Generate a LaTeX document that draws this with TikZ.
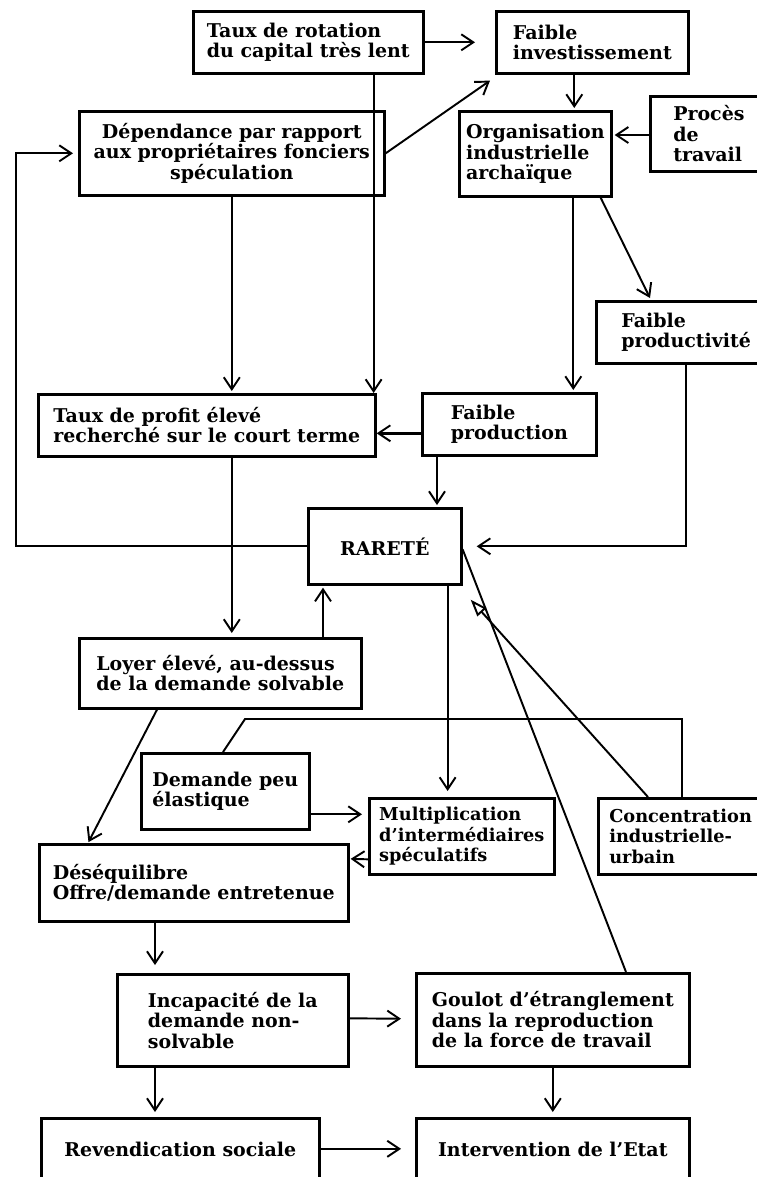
\documentclass[tikz,border=0pt]{standalone}
\usepackage{fontspec}
\setmainfont{DejaVu Serif}
\usetikzlibrary{arrows.meta,calc}
% box: [options] name, x1, y1, x2, y2 (top-left / bottom-right), text
\newcommand\placebox[7][]{%
  \node[box,#1,anchor=north west,
        minimum width={(#5-#3)*0.02cm},minimum height={(#6-#4)*0.02cm}]
        (#2) at (#3,#4) {#7};}
\begin{document}
\begin{tikzpicture}[x=0.02cm,y=-0.02cm,
  box/.style={draw,line width=1.5pt,inner sep=0pt,align=left,
              font=\fontsize{10.8}{11.6}\selectfont\bfseries},
  smalltext/.style={font=\fontsize{10.1}{11.6}\selectfont\bfseries},
  link/.style={line width=1.1pt},
  arr/.style={link,-{Straight Barb[length=2.4mm,width=3.2mm,line width=1.1pt]}},
  openarr/.style={link,-{Triangle[open,length=3.4mm,width=2.4mm,line width=1.1pt]}},
]
\useasboundingbox (0,0) rectangle (757,1177);
\fill[white] (0,0) rectangle (757,1177);
\clip (0,0) rectangle (757,1177);

% ---- boxes ----
\placebox{rot}{192}{10}{422}{72}{Taux de rotation\\du capital très lent}
\placebox{inv}{495}{10}{687}{72}{Faible\\investissement}
\placebox[align=center]{dep}{78}{110}{383}{194}{Dépendance par rapport\\aux propriétaires fonciers\\spéculation}
\placebox{org}{458}{110}{610}{195}{Organisation\\industrielle\\archaïque}
\placebox[text width={95*0.02cm}]{proc}{649}{95}{790}{170}{Procès\\de\\travail}
\placebox[text width={130*0.02cm}]{prodv}{595}{300}{775}{362}{Faible\\productivité}
\placebox{prof}{37}{393}{374}{455}{Taux de profit élevé\\recherché sur le court terme}
\placebox{prod}{421}{392}{595}{454}{Faible\\production}
\placebox{rar}{307}{507}{460}{583}{RARETÉ}
\placebox{loy}{78}{637}{360}{707}{Loyer élevé, au-dessus\\de la demande solvable}
\placebox{dem}{140}{752}{308}{828}{Demande peu\\élastique}
\placebox[smalltext]{mul}{368}{797}{553}{873}{Multiplication\\d'intermédiaires\\spéculatifs}
\placebox[smalltext,text width={156*0.02cm}]{con}{597}{797}{775}{873}{Concentration\\industrielle-\\urbain}
\placebox{des}{38}{843}{347}{920}{Déséquilibre\\Offre/demande entretenue}
\placebox{inc}{116}{973}{347}{1065}{Incapacité de la\\demande non-\\solvable}
\placebox{gou}{415}{972}{688}{1065}{Goulot d'étranglement\\dans la reproduction\\de la force de travail}
\placebox{rev}{40}{1117}{318}{1180}{Revendication sociale}
\placebox{int}{415}{1117}{688}{1180}{Intervention de l'Etat}

% ---- helper points ----
\coordinate (lft) at (16,0);
\coordinate (bend) at (245,719);
\coordinate (cRotProf) at ($(prof.north east)+(-3,0)$);
\coordinate (cInvOrg) at ($(org.north)+(39,0)$);
\coordinate (cOrgProd) at ($(prod.north)+(64,0)$);
\coordinate (cProdRar) at ($(prod.south west)+(16,0)$);
\coordinate (cLoyRar) at ($(rar.south west)+(16,0)$);
\coordinate (cRarMul) at ($(rar.south east)+(-15,0)$);
\coordinate (cDesInc) at ($(inc.north west)+(39,0)$);

% ---- connectors ----
\draw[arr,shorten >=20*0.02cm] (rot.east) -- (inv.west);
\draw[arr] (rot.south -| cRotProf) -- (cRotProf);
\draw[arr] (dep.east) -- ($(inv.south west)+(-5,6)$);
\draw[arr,shorten >=2*0.02cm] (inv.south -| cInvOrg) -- (cInvOrg);
\draw[arr,shorten >=2*0.02cm] (proc.west |- 0,135) -- (org.east |- 0,135);
\draw[arr,shorten >=2*0.02cm] (org.south -| cOrgProd) -- (cOrgProd);
\draw[arr] ($(org.south east)+(-12,0)$) -- ($(prodv.north west)+(55,-2)$);
\draw[arr,shorten >=2*0.02cm] (dep.south) -- (dep.south |- prof.north);
\draw[arr,line width=1.6pt] ($(prod.west)+(0,9)$) -- ($(prof.east)+(0,8)$);
\draw[arr,shorten >=2*0.02cm] (prod.south -| cProdRar) -- (rar.north -| cProdRar);
\draw[arr,shorten >=14*0.02cm] (prodv.south) -- (prodv.south |- rar.east) -- (rar.east);
\draw[arr,shorten >=5*0.02cm] (rar.west) -- (rar.west -| lft) |- (dep.west);
\draw[arr,shorten >=4*0.02cm] (prof.south -| dep.south) -- (loy.north -| dep.south);
\draw[arr,shorten >=2*0.02cm] (loy.north -| cLoyRar) -- (cLoyRar);
\draw[arr,shorten >=6*0.02cm] (cRarMul) -- (mul.north -| cRarMul);
\draw[openarr] ($(con.north west)+(51,0)$) -- ($(rar.south east)+(8,14)$);
\draw[link] ($(gou.north west)+(211,0)$) -- ($(rar.east)+(0,3)$);
\draw[link] ($(con.north west)+(85,0)$) |- (bend) -- ($(dem.north west)+(83,0)$);
\draw[arr,shorten >=6*0.02cm] ($(dem.east)+(0,23)$) -- ($(mul.west)+(0,-22)$);
\draw[arr,shorten >=1*0.02cm] ($(mul.west)+(0,23)$) -- ($(des.east)+(0,-24)$);
\draw[arr,shorten >=1*0.02cm] ($(loy.south west)+(79,0)$) -- ($(des.north west)+(50,0)$);
\draw[arr,shorten >=8*0.02cm] (des.south -| cDesInc) -- (cDesInc);
\draw[arr,shorten >=14*0.02cm] ($(inc.east)+(0,-2)$) -- ($(gou.west)+(0,-1)$);
\draw[arr,shorten >=5*0.02cm] (inc.south -| cDesInc) -- (rev.north -| cDesInc);
\draw[arr,shorten >=5*0.02cm] (gou.south) -- (int.north);
\draw[arr,shorten >=14*0.02cm] ($(rev.east)+(0,-1)$) -- ($(int.west)+(0,-1)$);
\end{tikzpicture}
\end{document}
